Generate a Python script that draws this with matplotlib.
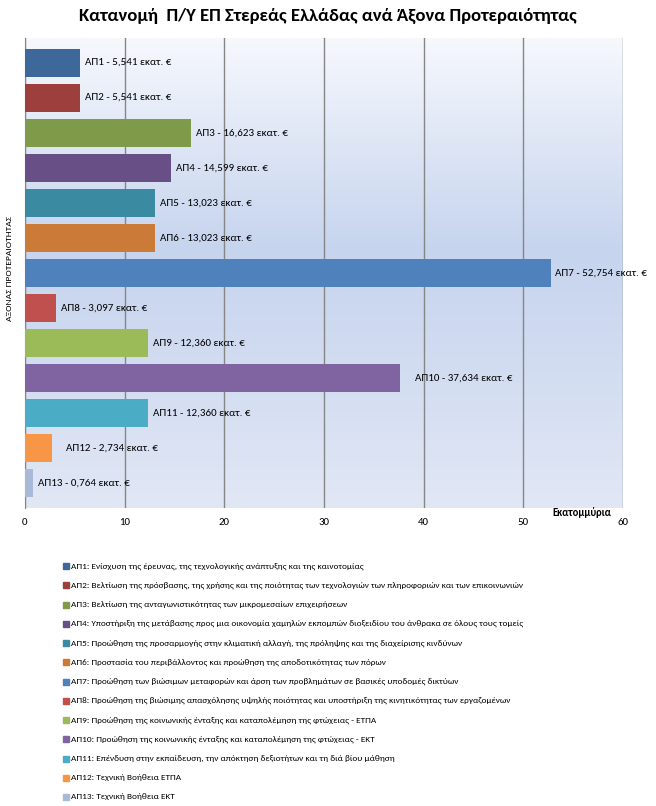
import numpy as np
import matplotlib
matplotlib.use("Agg")
import matplotlib.pyplot as plt
from matplotlib.colors import LinearSegmentedColormap
from matplotlib.patches import Rectangle

plt.rcParams['font.family'] = ['Carlito', 'DejaVu Sans']

# data
codes = ["ΑΠ1", "ΑΠ2", "ΑΠ3", "ΑΠ4", "ΑΠ5", "ΑΠ6", "ΑΠ7",
         "ΑΠ8", "ΑΠ9", "ΑΠ10", "ΑΠ11", "ΑΠ12", "ΑΠ13"]
values = [5.541, 5.541, 16.623, 14.599, 13.023, 13.023, 52.754,
          3.097, 12.360, 37.634, 12.360, 2.734, 0.764]
value_text = ["5,541", "5,541", "16,623", "14,599", "13,023", "13,023", "52,754",
              "3,097", "12,360", "37,634", "12,360", "2,734", "0,764"]
descriptions = [
    "Ενίσχυση της έρευνας, της τεχνολογικής ανάπτυξης και της καινοτομίας",
    "Βελτίωση της πρόσβασης, της χρήσης και της ποιότητας των τεχνολογιών των πληροφοριών και των επικοινωνιών",
    "Βελτίωση της ανταγωνιστικότητας των μικρομεσαίων επιχειρήσεων",
    "Υποστήριξη της μετάβασης προς μια οικονομία χαμηλών εκπομπών διοξειδίου του άνθρακα σε όλους τους τομείς",
    "Προώθηση της προσαρμογής στην κλιματική αλλαγή, της πρόληψης και της διαχείρισης κινδύνων",
    "Προστασία του περιβάλλοντος και προώθηση της αποδοτικότητας των πόρων",
    "Προώθηση των βιώσιμων μεταφορών και άρση των προβλημάτων σε βασικές υποδομές δικτύων",
    "Προώθηση της βιώσιμης απασχόλησης υψηλής ποιότητας και υποστήριξη της κινητικότητας των εργαζομένων",
    "Προώθηση της κοινωνικής ένταξης και καταπολέμηση της φτώχειας - ΕΤΠΑ",
    "Προώθηση της κοινωνικής ένταξης και καταπολέμηση της φτώχειας - ΕΚΤ",
    "Επένδυση στην εκπαίδευση, την απόκτηση δεξιοτήτων και τη διά βίου μάθηση",
    "Τεχνική Βοήθεια ΕΤΠΑ",
    "Τεχνική Βοήθεια ΕΚΤ",
]
colors = ["#3e6899", "#9d3f3d", "#7f9a48", "#684f86", "#3a8aa1", "#cc7a37", "#4f81bd",
          "#c0504d", "#9bbb59", "#8064a2", "#4bacc6", "#f79646", "#a9b9d8"]
label_gap = [5, 5, 5, 5, 5, 5, 4, 5, 5, 15, 5, 14, 5]  # px

W, H = 656, 806
fig = plt.figure(figsize=(W / 100, H / 100), dpi=100)
ax = fig.add_axes([25 / W, 1 - 508 / H, (623 - 25) / W, (508 - 38) / H])

# gradient background
cmap = LinearSegmentedColormap.from_list("bg", [(0, "#f6f8fd"), (0.45, "#c6d4ee"), (1, "#e1e7f5")])
grad = np.linspace(0, 1, 256).reshape(-1, 1)
ax.imshow(grad, extent=[0, 60, 12.7, -0.7], aspect="auto", cmap=cmap, zorder=0)

y = np.arange(len(codes))
ax.barh(y, values, height=0.8, color=colors, zorder=3)

ax.set_xlim(0, 60)
ax.set_ylim(12.7, -0.7)
ax.set_xticks(range(0, 61, 10))
ax.set_yticks([])
ax.grid(axis="x", color="#868686", linewidth=1, zorder=1)
ax.tick_params(axis="x", length=0, labelsize=7.8, pad=7)
for s in ["top", "right", "bottom"]:
    ax.spines[s].set_visible(False)
ax.spines["left"].set_color("#868686")

# bar labels
px = 60 / (623 - 25)
for i in range(len(codes)):
    ax.text(values[i] + label_gap[i] * px, i, f"{codes[i]} - {value_text[i]} εκατ. €",
            va="center", ha="left", fontsize=7.9, zorder=4)

fig.text(10 / W, 1 - 268 / H, "ΑΞΟΝΑΣ ΠΡΟΤΕΡΑΙΟΤΗΤΑΣ", fontsize=6.8, rotation=90,
         ha="center", va="center")
fig.text(611 / W, 1 - 513 / H, "Εκατομμύρια", fontsize=7.6, fontweight="bold",
         ha="right", va="center")

fig.suptitle("Κατανομή  Π/Υ ΕΠ Στερεάς Ελλάδας ανά Άξονα Προτεραιότητας",
             fontsize=13.4, fontweight="bold", y=1 - 16 / H, va="center")

# legend
for i in range(len(codes)):
    yy = 566 + i * 19.25
    fig.add_artist(Rectangle((63 / W, 1 - (yy + 3) / H), 6 / W, 6 / H,
                             transform=fig.transFigure, color=colors[i]))
    fig.text(71 / W, 1 - yy / H, f"{codes[i]}: {descriptions[i]}", fontsize=6.7,
             ha="left", va="center")

fig.savefig("out.png", dpi=100)
